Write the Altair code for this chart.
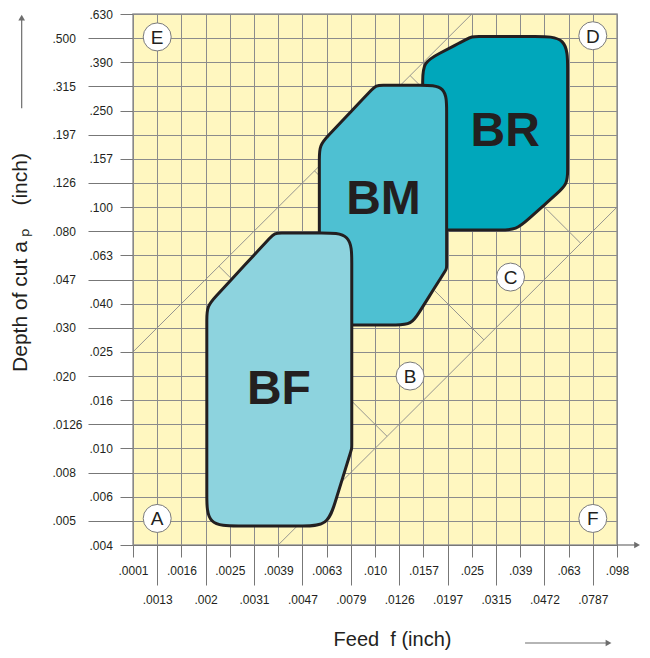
import json
import altair as alt
import pandas as pd

# ---------------- data (grid-index units) ----------------
x_labels = [".0001", ".0013", ".0016", ".002", ".0025", ".0031", ".0039", ".0047",
            ".0063", ".0079", ".010", ".0126", ".0157", ".0197", ".025", ".0315",
            ".039", ".0472", ".063", ".0787", ".098"]
y_labels = [".004", ".005", ".006", ".008", ".010", ".0126", ".016", ".020", ".025",
            ".030", ".040", ".047", ".063", ".080", ".100", ".126", ".157", ".197",
            ".250", ".315", ".390", ".500", ".630"]

# application areas (corner vertices, corner rounding)
bf_x = [3.05, 5.85, 9.04, 9.04, 8.05, 3.05]
bf_y = [9.90, 12.93, 12.93, 4.00, 0.79, 0.79]
bf_r = [0.60, 0.30, 1.25, 0.15, 1.05, 1.30]

bm_x = [7.70, 10.04, 12.96, 12.96, 11.50, 7.70]
bm_y = [16.57, 19.05, 19.05, 11.45, 9.12, 9.12]
bm_r = [0.60, 0.30, 1.10, 0.15, 0.65, 0.50]

br_x = [11.97, 14.00, 17.96, 17.96, 15.84, 11.97]
br_y = [20.00, 21.07, 21.07, 14.96, 13.05, 13.05]
br_r = [0.80, 0.30, 1.35, 0.60, 0.70, 0.30]

area_names = ["BF", "BM", "BR"]
area_lx = [6.03, 10.35, 15.38]
area_ly = [6.54, 14.43, 17.25]

# guide lines (diagonals and perpendicular marks)
seg_x1 = [0.0, 6.0, 3.55, 7.50, 11.45, 9.00, 12.45, 16.95]
seg_y1 = [8.0, 0.0, 11.55, 15.50, 19.45, 6.00, 10.55, 14.05]
seg_x2 = [14.0, 20.0, 4.05, 7.72, 11.98, 10.50, 14.50, 18.50]
seg_y2 = [22.0, 14.0, 11.05, 15.28, 18.92, 4.50, 8.50, 12.50]

# lettered zones
zone_letters = ["A", "B", "C", "D", "E", "F"]
zone_x = [1.0, 11.45, 15.6, 19.0, 1.0, 19.0]
zone_y = [1.1, 7.0, 11.1, 21.1, 21.05, 1.1]

# arrows
arr_x1 = [20.0, -4.6, 16.2]
arr_y1 = [0.0, 18.1, -4.06]
arr_x2 = [20.75, -4.6, 19.55]
arr_y2 = [0.0, 21.75, -4.06]
head_x = [20.83, -4.6, 19.65]
head_y = [0.0, 21.85, -4.06]
head_shape = ["triangle-right", "triangle-up", "triangle-right"]

# ---------------- styles ----------------
FONT = "Liberation Sans"
INK = "#231F20"
fills = {"BF": "#8DD3DE", "BM": "#4EC0D2", "BR": "#00A7BB"}


def outline(xs, ys, rs):
    """Control points for a rounded closed outline (basis-closed spline)."""
    n = len(xs)
    pts = []
    for i in range(n):
        px, py = xs[i - 1], ys[i - 1]
        cx, cy = xs[i], ys[i]
        nx, ny = xs[(i + 1) % n], ys[(i + 1) % n]
        li = ((cx - px) ** 2 + (cy - py) ** 2) ** 0.5
        lo = ((nx - cx) ** 2 + (ny - cy) ** 2) ** 0.5
        uix, uiy = (cx - px) / li, (cy - py) / li
        uox, uoy = (nx - cx) / lo, (ny - cy) / lo
        r = rs[i]
        pts.append((cx - 2 * r * uix, cy - 2 * r * uiy))
        pts.append((cx - r * uix, cy - r * uiy))
        pts.append((cx, cy))
        pts.append((cx + r * uox, cy + r * uoy))
        pts.append((cx + 2 * r * uox, cy + 2 * r * uoy))
    return pd.DataFrame({"x": [p[0] for p in pts], "y": [p[1] for p in pts],
                         "k": list(range(len(pts)))})


odd = "datum.value % 2 == 1"
x_axis = alt.Axis(
    values=list(range(21)),
    labelExpr=json.dumps(x_labels) + "[datum.value]",
    tickSize={"condition": {"test": odd, "value": 40}, "value": 12},
    labelPadding={"condition": {"test": odd, "value": 9}, "value": 8},
    labelAngle=0, labelAlign="center", labelBaseline="top",
    labelFont=FONT, labelFontSize=12, labelColor=INK,
    labelOverlap=False, labelFlush=False, labelBound=False,
    tickColor="#777777", tickWidth=1, domainColor="#777777", domainWidth=1,
    grid=True, gridColor="#8c8c8c", gridWidth=1,
    title="Feed\u00a0\u00a0f (inch)", titleFont=FONT, titleFontSize=20,
    titleFontWeight="normal", titleColor=INK,
    titleX=259, titleY=94, titleAlign="center", titleBaseline="middle",
)
y_axis = alt.Axis(
    values=list(range(23)),
    labelExpr=json.dumps(y_labels) + "[datum.value]",
    tickSize={"condition": {"test": odd, "value": 45}, "value": 13},
    labelPadding={"condition": {"test": odd, "value": 36}, "value": 31},
    labelAlign="left", labelBaseline="middle",
    labelFont=FONT, labelFontSize=12, labelColor=INK,
    labelOverlap=False, labelFlush=False, labelBound=False,
    tickColor="#777777", tickWidth=1, domainColor="#888888", domainWidth=1,
    grid=True, gridColor="#8c8c8c", gridWidth=1,
    title="Depth of cut a\u2009\u209a\u00a0\u00a0\u00a0\u00a0(inch)", titleFont=FONT,
    titleFontSize=21, titleFontWeight="normal", titleColor=INK,
    titleX=-113, titleY=248, titleAngle=270, titleAlign="center",
    titleBaseline="middle",
)

xs = alt.Scale(domain=[0, 20], nice=False, zero=False)
ys = alt.Scale(domain=[0, 22], nice=False, zero=False)


def X(field="x"):
    return alt.X(f"{field}:Q", scale=xs, axis=x_axis)


def Y(field="y"):
    return alt.Y(f"{field}:Q", scale=ys, axis=y_axis)


segs = pd.DataFrame({"x": seg_x1, "y": seg_y1, "x2": seg_x2, "y2": seg_y2})
guide = alt.Chart(segs).mark_rule(color="#8a8a8a", strokeWidth=0.9).encode(
    x=X(), y=Y(), x2="x2:Q", y2="y2:Q")

shapes = []
for name, xv, yv, rv in [("BR", br_x, br_y, br_r), ("BM", bm_x, bm_y, bm_r),
                         ("BF", bf_x, bf_y, bf_r)]:
    shapes.append(
        alt.Chart(outline(xv, yv, rv)).mark_line(
            interpolate="basis-closed", fill=fills[name], stroke=INK,
            strokeWidth=3, strokeJoin="round"
        ).encode(x=X(), y=Y(), order="k:Q")
    )

labels_df = pd.DataFrame({"x": area_lx, "y": area_ly, "t": area_names})
area_text = alt.Chart(labels_df).mark_text(
    font=FONT, fontSize=48, fontWeight="bold", color=INK,
    baseline="alphabetic", align="center", dy=17
).encode(x=X(), y=Y(), text="t:N")

zones = pd.DataFrame({"x": zone_x, "y": zone_y, "t": zone_letters})
zone_circ = alt.Chart(zones).mark_point(
    shape="circle", filled=True, fill="white", stroke="#7a7a7a",
    strokeWidth=1, size=784, opacity=1
).encode(x=X(), y=Y())
zone_text = alt.Chart(zones).mark_text(
    font=FONT, fontSize=19, color=INK, baseline="alphabetic", align="center", dy=7
).encode(x=X(), y=Y(), text="t:N")

arrows = pd.DataFrame({"x": arr_x1, "y": arr_y1, "x2": arr_x2, "y2": arr_y2})
arrow_lines = alt.Chart(arrows).mark_rule(color="#6d6d6d", strokeWidth=1.2).encode(
    x=X(), y=Y(), x2="x2:Q", y2="y2:Q")
heads = pd.DataFrame({"x": head_x, "y": head_y, "s": head_shape})
arrow_heads = alt.Chart(heads).mark_point(
    filled=True, color="#6d6d6d", size=45, opacity=1
).encode(x=X(), y=Y(),
         shape=alt.Shape("s:N", scale=None, legend=None))

chart = alt.layer(
    guide, *shapes, area_text, zone_circ, zone_text, arrow_lines, arrow_heads
).properties(
    width=484, height=531,
    autosize=alt.AutoSizeParams(type="none"),
    padding={"left": 125, "top": 6, "right": 25, "bottom": 105},
    background="white",
).configure_view(
    fill="#FFF7C0", stroke="#999999", strokeWidth=1.5
)

chart.save("out.html", embed_options={"renderer": "svg", "actions": False})
